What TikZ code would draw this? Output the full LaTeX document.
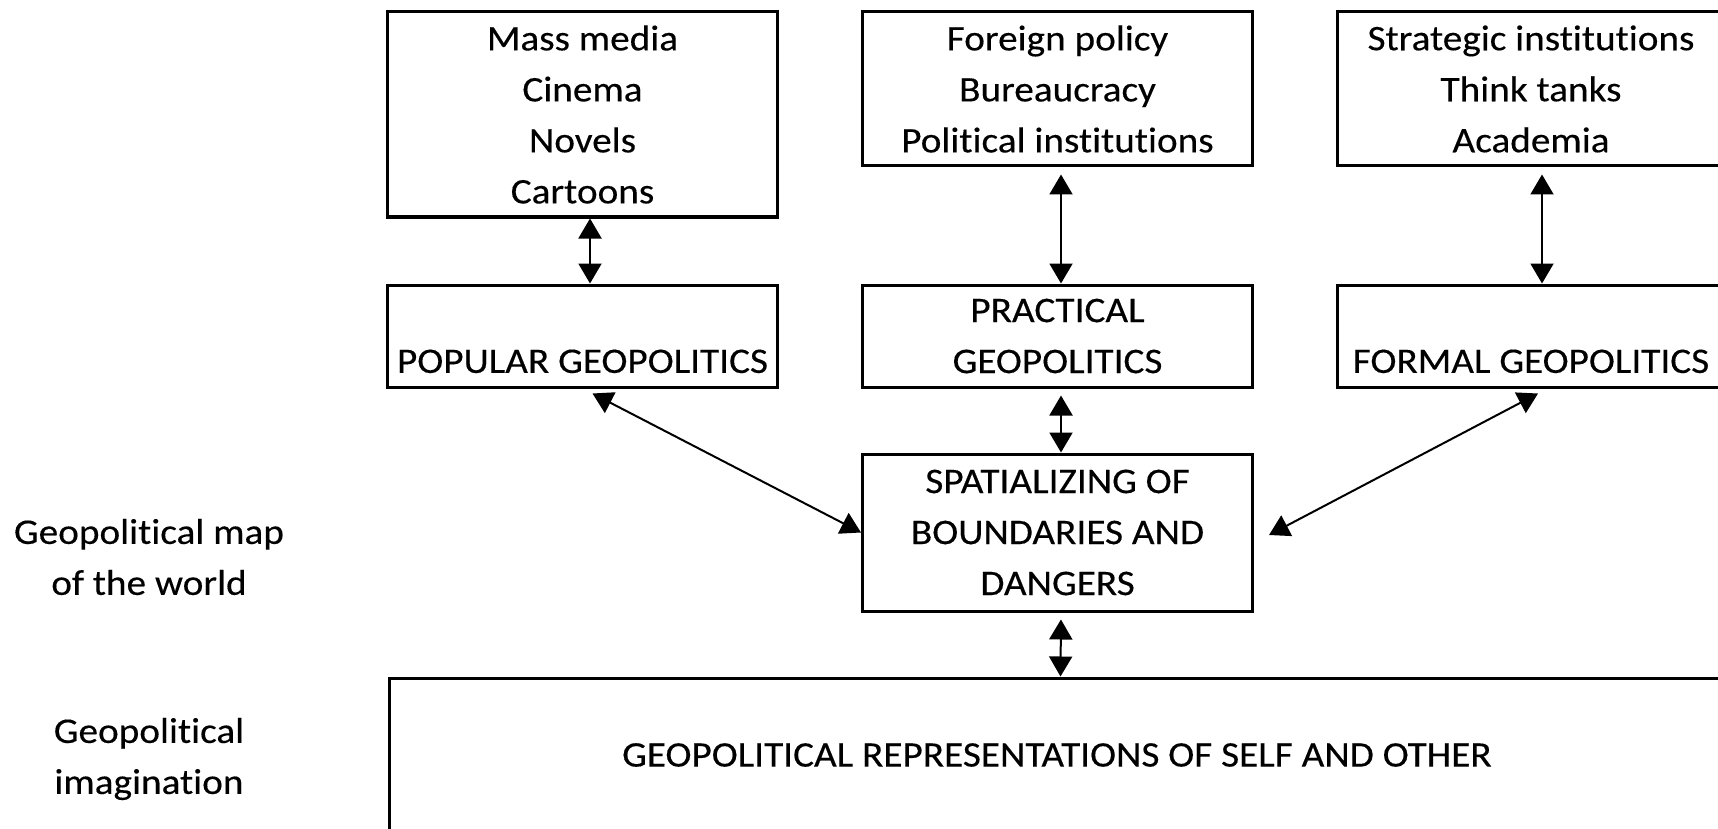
\documentclass[tikz,border=0pt]{standalone}
\usepackage{fontspec}
\setmainfont{Carlito}[FakeStretch=1.09,FakeBold=0.3,RawFeature=-liga]
\usetikzlibrary{arrows.meta}
\begin{document}
\begin{tikzpicture}[x=1pt,y=-1pt,
  		font=\fontsize{36}{51}\selectfont,
  		box/.style={draw,line width=3pt,align=center,inner sep=0pt},
  		topbox/.style={box,minimum width=390pt,minimum height=154pt},
  		geobox/.style={box,minimum width=390pt,minimum height=102pt},
  		link/.style={line width=2pt,{Triangle[width=23pt,length=20pt]}-{Triangle[width=23pt,length=20pt]}}]
  		\useasboundingbox (0,0) rectangle (1718,829);
  		\node[topbox,minimum height=205pt] (media) at (582.5,114.5) {Mass media\\Cinema\\Novels\\Cartoons};
  		\node[topbox] (foreign) at (1057.5,89) {Foreign policy\\Bureaucracy\\Political institutions};
  		\node[topbox,minimum width=388pt] (strategic) at (1531,89) {Strategic institutions\\Think tanks\\Academia};
  		\node[geobox] (popular) at (582.5,336) {\phantom{X}\\POPULAR GEOPOLITICS};
  		\node[geobox] (practical) at (1057.5,336) {PRACTICAL\\GEOPOLITICS};
  		\node[geobox,minimum width=388pt] (formal) at (1531,336) {\phantom{X}\\FORMAL GEOPOLITICS};
  		\node[box,minimum width=390pt,minimum height=157pt] (spatial) at (1057.5,532.5) {SPATIALIZING OF\\BOUNDARIES AND\\DANGERS};
  		\node[box,minimum width=1336pt,minimum height=154pt] (repr) at (1057,755) {GEOPOLITICAL REPRESENTATIONS OF SELF AND OTHER};
  		\node[align=center] (maplbl) at (149,557) {Geopolitical map\\of the world};
  		\node[align=center] (imaglbl) at (149,759) {Geopolitical\\imagination};
  		\draw[link] ([xshift=7.5pt]media.south) -- ([xshift=7.5pt]popular.north);
  		\draw[link,shorten <=7pt] ([xshift=3.5pt]foreign.south) -- ([xshift=3.5pt]practical.north);
  		\draw[link,shorten <=7pt] ([xshift=11pt]strategic.south) -- ([xshift=11pt]formal.north);
  		\draw[link,shorten <=7pt] ([xshift=3.5pt]practical.south) -- ([xshift=3.5pt]spatial.north);
  		\draw[link,shorten <=7pt] ([xshift=3.5pt]spatial.south) -- ([xshift=3.5pt]repr.north);
  		\draw[link] ([xshift=10pt,yshift=-5pt]popular.south) -- (spatial.west);
  		\draw[link] ([xshift=7pt,yshift=-5pt]formal.south) -- ([xshift=15pt,yshift=-2.5pt]spatial.east);
\end{tikzpicture}
\end{document}
